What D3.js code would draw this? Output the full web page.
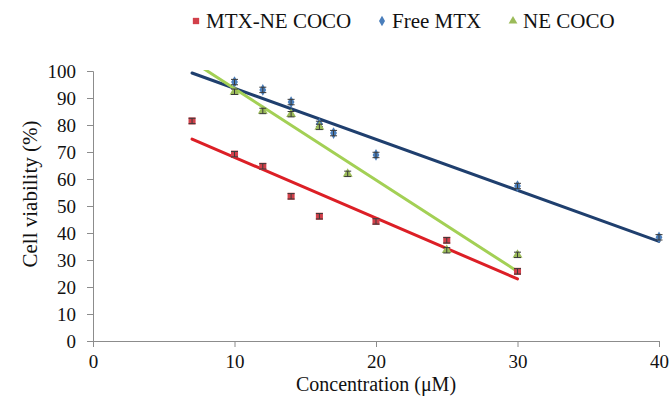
<!DOCTYPE html>
<html>
<head>
<meta charset="utf-8" />
<title>Cell viability vs concentration</title>
<style>
  body { margin: 0; background: #fff; }
  text { font-family: "Liberation Serif", "Times New Roman", serif; fill: #111; }
</style>
</head>
<body>
<script src="https://d3js.org/d3.v7.min.js"></script>
<script>

  // MTX-NE COCO
  var mtxNeConc = [7, 10, 12, 14, 16, 20, 25, 30];
  var mtxNeViab = [81.5, 69.2, 64.7, 53.6, 46.2, 44.3, 37.3, 25.8];
  var mtxNeErr  = [1.0, 1.0, 1.0, 1.0, 1.0, 1.0, 1.0, 1.0];

  // Free MTX
  var freeConc = [10, 12, 14, 16, 17, 20, 30, 40];
  var freeViab = [95.9, 93.0, 88.5, 80.4, 77.0, 68.9, 57.4, 38.4];
  var freeErr  = [1.0, 1.0, 1.0, 1.0, 1.0, 1.0, 1.0, 1.0];

  // NE COCO
  var neConc = [10, 12, 14, 16, 18, 25, 30];
  var neViab = [92.3, 85.2, 84.0, 79.3, 61.9, 33.6, 31.9];
  var neErr  = [1.0, 1.0, 1.0, 1.0, 1.0, 1.0, 1.0];

  var xTicks = [0, 10, 20, 30, 40];
  var yTicks = [0, 10, 20, 30, 40, 50, 60, 70, 80, 90, 100];
  var trendStart = 7;

  var width = 670, height = 397;
  var margin = {left: 93, right: 11, top: 71, bottom: 56};

  var svg = d3.select("body").append("svg")
              .attr("width", width)
              .attr("height", height);

  var x = d3.scaleLinear().domain([0, 40]).range([margin.left, width - margin.right]);
  var y = d3.scaleLinear().domain([0, 100]).range([height - margin.bottom, margin.top]);

  var series = [
    {name: "MTX-NE COCO", xs: mtxNeConc, ys: mtxNeViab, err: mtxNeErr,
     marker: "#d2404a", line: "#dc1f26", shape: d3.symbolSquare, size: 50},
    {name: "Free MTX", xs: freeConc, ys: freeViab, err: freeErr,
     marker: "#4a7ebb", line: "#1f3f6e", shape: d3.symbolDiamond, size: 40},
    {name: "NE COCO", xs: neConc, ys: neViab, err: neErr,
     marker: "#9bbb59", line: "#a3d055", shape: d3.symbolTriangle, size: 42}
  ];

  // axes
  var yAxis = d3.axisLeft(y).tickValues(yTicks).tickSize(6).tickPadding(11);
  var xAxis = d3.axisBottom(x).tickValues(xTicks).tickSize(6).tickPadding(8);

  var gy = svg.append("g")
     .attr("transform", "translate(" + margin.left + ",0)")
     .call(yAxis);
  var gx = svg.append("g")
     .attr("transform", "translate(0," + (height - margin.bottom) + ")")
     .call(xAxis);

  [gx, gy].forEach(function(g) {
    g.select(".domain").attr("stroke", "#8c8c8c");
    g.selectAll(".tick line").attr("stroke", "#8c8c8c");
    g.selectAll("text").style("font-family", "Liberation Serif").style("font-size", "19px").attr("fill", "#111");
  });

  svg.append("text")
     .attr("x", (x.range()[0] + x.range()[1]) / 2)
     .attr("y", 391)
     .style("text-anchor", "middle")
     .style("font-size", "20px")
     .text("Concentration (\u03bcM)");

  svg.append("text")
     .attr("transform", "translate(37,194) rotate(-90)")
     .style("text-anchor", "middle")
     .style("font-size", "21px")
     .text("Cell viability (%)");

  // clip for trend lines
  svg.append("clipPath").attr("id", "plot")
     .append("rect")
     .attr("x", margin.left)
     .attr("y", margin.top - 1)
     .attr("width", width - margin.left - margin.right + 2)
     .attr("height", height - margin.top - margin.bottom + 1);

  function fit(xs, ys) {
    var mx = d3.mean(xs), my = d3.mean(ys);
    var sxy = d3.sum(xs, function(v, i) { return (v - mx) * (ys[i] - my); });
    var sxx = d3.sum(xs, function(v) { return (v - mx) * (v - mx); });
    var b = sxy / sxx;
    return {b: b, a: my - b * mx};
  }

  var lines = svg.append("g").attr("clip-path", "url(#plot)");
  var marks = svg.append("g");

  series.forEach(function(s) {
    var f = fit(s.xs, s.ys);
    var x1 = trendStart, x2 = d3.max(s.xs);
    lines.append("line")
         .attr("x1", x(x1)).attr("y1", y(f.a + f.b * x1))
         .attr("x2", x(x2)).attr("y2", y(f.a + f.b * x2))
         .attr("stroke", s.line)
         .attr("stroke-width", 3)
         .attr("stroke-linecap", "round");
  });

  series.forEach(function(s) {
    var pts = s.xs.map(function(v, i) { return {x: v, y: s.ys[i], e: s.err[i]}; });
    var g = marks.selectAll(null).data(pts).enter().append("g");

    g.append("path")
     .attr("transform", function(d) { return "translate(" + x(d.x) + "," + y(d.y) + ")"; })
     .attr("d", d3.symbol().type(s.shape).size(s.size))
     .attr("fill", s.marker);

    g.append("path")
     .attr("d", function(d) {
       var cx = x(d.x), t = y(d.y + d.e), b = y(d.y - d.e);
       return "M" + (cx - 3.5) + "," + t + "H" + (cx + 3.5) +
              "M" + cx + "," + t + "V" + b +
              "M" + (cx - 3.5) + "," + b + "H" + (cx + 3.5);
     })
     .attr("fill", "none")
     .attr("stroke", "#3a3a3a")
     .attr("stroke-width", 1);
  });

  // legend
  var legendX = [196, 382, 513];
  var legend = svg.append("g");
  series.forEach(function(s, i) {
    legend.append("path")
          .attr("transform", "translate(" + legendX[i] + ",21)")
          .attr("d", d3.symbol().type(s.shape).size(s.size * 0.8))
          .attr("fill", s.marker);
    legend.append("text")
          .attr("x", legendX[i] + 10)
          .attr("y", 28)
          .style("font-size", "21px")
          .text(s.name);
  });

</script>
</body>
</html>
